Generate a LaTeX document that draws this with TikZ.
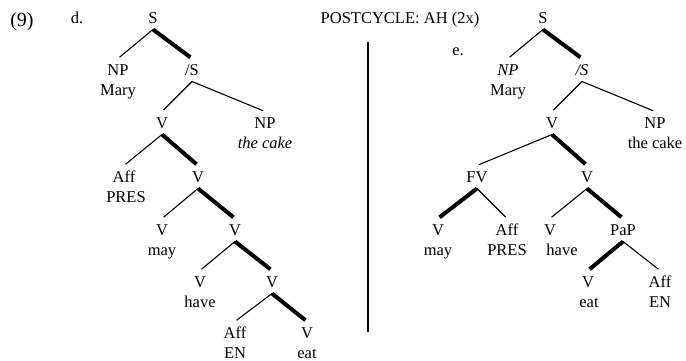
\documentclass[tikz,border=0pt]{standalone}
\usepackage{fontspec}
\setmainfont{Liberation Serif}

\tikzset{
  cat/.style={inner xsep=1pt, inner ysep=1pt, outer xsep=0pt, outer ysep=5pt,
    text height=11pt, text depth=0pt, font=\fontsize{16.5}{20}\selectfont},
  word/.style={cat},
  branch/.style={line width=1.1pt, shorten >=2pt},
  headbranch/.style={line width=4pt, shorten >=2pt},
}

\begin{document}
\begin{tikzpicture}[x=1pt, y=-1pt]
            \useasboundingbox (0,0) rectangle (686,361);

            \node[cat, text height=13pt, font=\fontsize{20}{22}\selectfont] (num) at (22,20) {(9)};
            \node[cat] (dlbl) at (77,18) {d.};
            \node[cat] (elbl) at (458,50) {e.};
            \node[cat] (title) at (400,18) {POSTCYCLE: AH (2x)};

            % tree d
            \node[cat] (dS) at (153,18) {S};
            \node[cat] (dNP) at (118,70) {NP};
            \node[word] (dMary) at (118,90) {Mary};
            \node[cat] (dSbar) at (192,70) {/S};
            \node[cat] (dV1) at (162,123) {V};
            \node[cat] (dNPo) at (265,123) {NP};
            \node[word] (dCake) at (265,143) {\textit{the cake}};
            \node[cat] (dAff1) at (124,177) {Aff};
            \node[word] (dPres) at (126,197) {PRES};
            \node[cat] (dV2) at (198,177) {V};
            \node[cat] (dV3) at (162,230) {V};
            \node[word] (dMay) at (162,250) {may};
            \node[cat] (dV4) at (235,230) {V};
            \node[cat] (dV5) at (200,282) {V};
            \node[word] (dHave) at (200,302) {have};
            \node[cat] (dV6) at (272,282) {V};
            \node[cat] (dAff2) at (235,333) {Aff};
            \node[word] (dEn) at (235,353) {EN};
            \node[cat] (dV7) at (307,333) {V};
            \node[word] (dEat) at (307,353) {eat};

            \draw[branch] (dS.south) -- (dNP.north);
            \draw[headbranch] (dS.south) -- (dSbar.north);
            \draw[branch] (dSbar.south) -- (dV1.north);
            \draw[branch] (dSbar.south) -- (dNPo.north);
            \draw[branch] (dV1.south) -- (dAff1.north);
            \draw[headbranch] (dV1.south) -- (dV2.north);
            \draw[branch] (dV2.south) -- (dV3.north);
            \draw[headbranch] (dV2.south) -- (dV4.north);
            \draw[branch] (dV4.south) -- (dV5.north);
            \draw[headbranch] (dV4.south) -- (dV6.north);
            \draw[branch] (dV6.south) -- (dAff2.north);
            \draw[headbranch] (dV6.south) -- (dV7.north);

            % divider
            \draw[line width=2.5pt] (368,42) -- (368,332);

            % tree e
            \node[cat] (eS) at (543,18) {S};
            \node[cat] (eNP) at (508,70) {\textit{NP}};
            \node[word] (eMary) at (508,90) {Mary};
            \node[cat] (eSbar) at (582,70) {\textit{/S}};
            \node[cat] (eV1) at (552,123) {V};
            \node[cat] (eNPo) at (655,123) {NP};
            \node[word] (eCake) at (655,143) {the cake};
            \node[cat] (eFV) at (477,177) {FV};
            \node[cat] (eV2) at (587,177) {V};
            \node[cat] (eV3) at (438,230) {V};
            \node[word] (eMay) at (438,250) {may};
            \node[cat] (eAff1) at (507,230) {Aff};
            \node[word] (ePres) at (507,250) {PRES};
            \node[cat] (eV4) at (550,230) {V};
            \node[word] (eHave) at (562,250) {have};
            \node[cat] (ePaP) at (623,230) {PaP};
            \node[cat] (eV5) at (588,282) {V};
            \node[word] (eEat) at (589,302) {eat};
            \node[cat] (eAff2) at (660,282) {Aff};
            \node[word] (eEn) at (660,302) {EN};

            \draw[branch] (eS.south) -- (eNP.north);
            \draw[headbranch] (eS.south) -- (eSbar.north);
            \draw[branch] (eSbar.south) -- (eV1.north);
            \draw[branch] (eSbar.south) -- (eNPo.north);
            \draw[branch] (eV1.south) -- (eFV.north);
            \draw[headbranch] (eV1.south) -- (eV2.north);
            \draw[headbranch] (eFV.south) -- (eV3.north);
            \draw[branch] (eFV.south) -- (eAff1.north);
            \draw[branch] (eV2.south) -- (eV4.north);
            \draw[headbranch] (eV2.south) -- (ePaP.north);
            \draw[headbranch] (ePaP.south) -- (eV5.north);
            \draw[branch] (ePaP.south) -- (eAff2.north);

        \end{tikzpicture}
\end{document}
